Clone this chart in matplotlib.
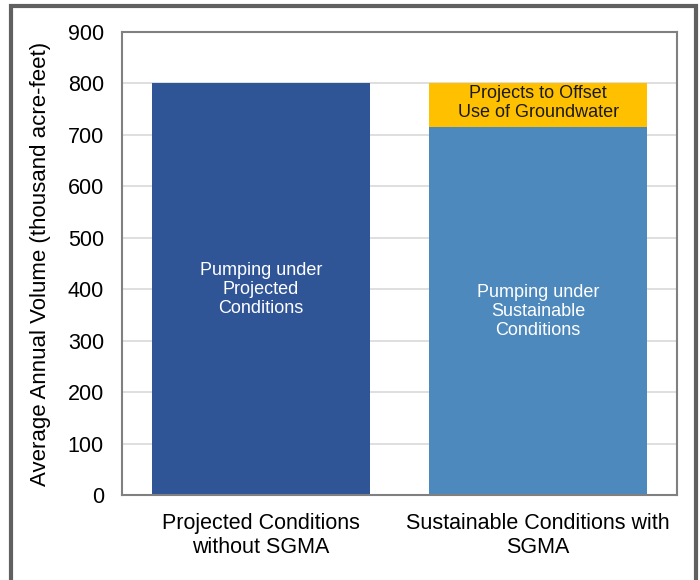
import matplotlib.pyplot as plt
from matplotlib.patches import Rectangle

# data (thousand acre-feet)
categories = ['Projected Conditions\nwithout SGMA', 'Sustainable Conditions with\nSGMA']
pumping = [800, 715]
offset_projects = [0, 85]
pumping_labels = ['Pumping under\nProjected\nConditions', 'Pumping under\nSustainable\nConditions']
offset_label = 'Projects to Offset\nUse of Groundwater'
pumping_colors = ['#2F5597', '#4E89BD']
offset_color = '#FFC000'

plt.rcParams['font.family'] = ['Liberation Sans', 'DejaVu Sans']

fig = plt.figure(figsize=(7, 5.8), dpi=100)
ax = fig.add_axes([0.1743, 0.1466, 0.7927, 0.7982])

x = list(range(len(categories)))
ax.bar(x, pumping, width=0.785, color=pumping_colors, zorder=2)
ax.bar(x, offset_projects, bottom=pumping, width=0.785, color=offset_color, zorder=2)

# labels inside the bars
for xi, val, lab in zip(x, pumping, pumping_labels):
    ax.text(xi, val / 2, lab, ha='center', va='center',
            color='white', fontsize=13, linespacing=1.15, zorder=3)
ax.text(x[1], pumping[1] + offset_projects[1] / 2 + 5, offset_label, ha='center', va='center',
        color='#1a1a1a', fontsize=13, linespacing=1.15, zorder=3)

ax.set_xlim(-0.5, 1.5)
ax.set_ylim(0, 900)
ax.set_yticks(range(0, 901, 100))
ax.set_xticks(x)
ax.set_xticklabels(categories, fontsize=15.5, linespacing=1.2)
ax.tick_params(axis='y', labelsize=15.5, length=0, pad=13)
ax.tick_params(axis='x', length=0, pad=13)
ax.set_ylabel('Average Annual Volume (thousand acre-feet)', fontsize=16)
ax.yaxis.set_label_coords(-0.128, 0.5)
ax.yaxis.grid(True, color='#d9d9d9', linewidth=1.2, zorder=0)
ax.set_axisbelow(True)
for s in ax.spines.values():
    s.set_color('#808080')
    s.set_linewidth(1.5)

# outer frame of the picture
fig.patches.append(Rectangle((11 / 700, -0.02), 685 / 700, 1 - 6 / 580 + 0.02,
                             transform=fig.transFigure, fill=False,
                             edgecolor='#606060', linewidth=3))

fig.savefig('out.png', dpi=100)
